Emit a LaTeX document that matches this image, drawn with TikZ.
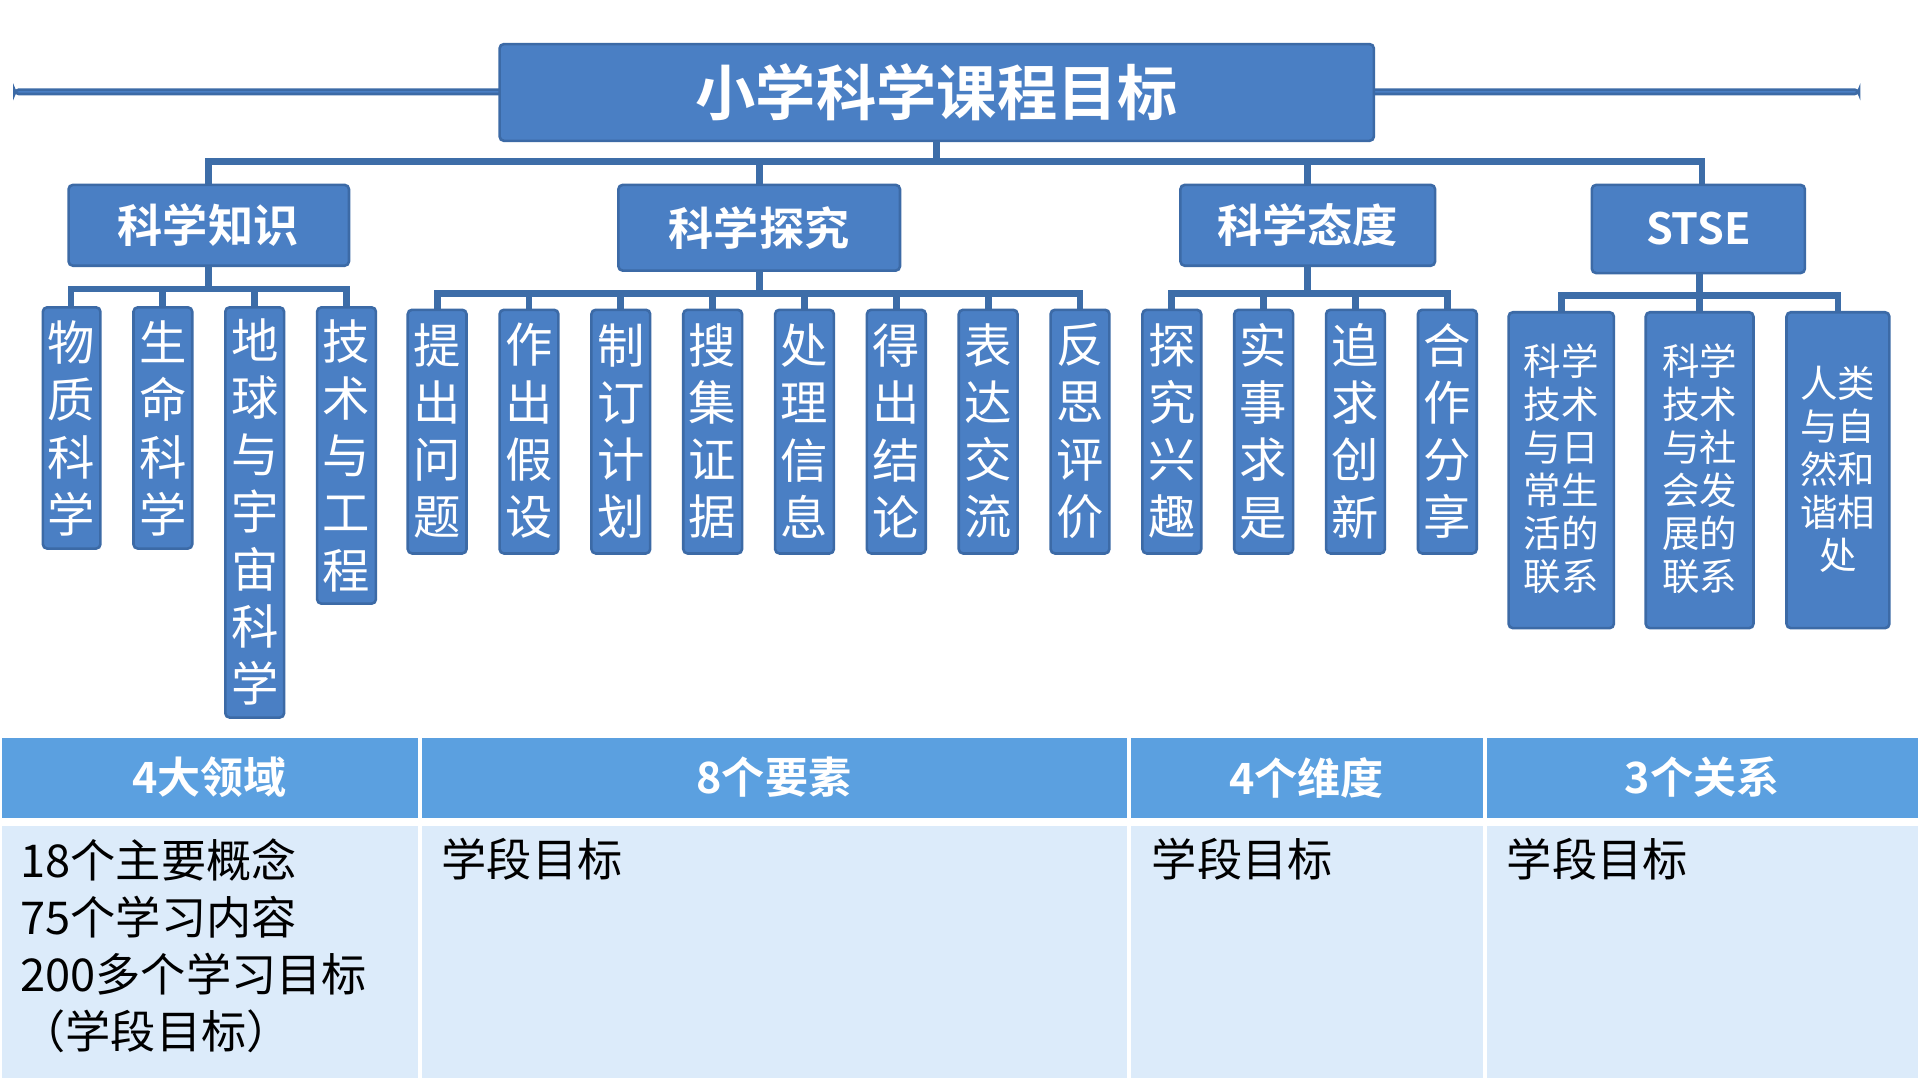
\documentclass[tikz,border=0pt]{standalone}
\usepackage{fontspec}
\setmainfont{Noto Sans CJK SC}
\newfontfamily\cjk{Noto Sans CJK SC}
\newfontfamily\cjkb{Noto Sans CJK SC Bold}
\definecolor{bx}{HTML}{4A7FC4}
\definecolor{bxd}{HTML}{3C6AA6}
\definecolor{ln}{HTML}{3D6DA8}
\definecolor{th}{HTML}{5BA0E0}
\definecolor{tb}{HTML}{DCEBFA}
\begin{document}
\begin{tikzpicture}[x=0.01cm,y=-0.01cm,
  bluebox/.style={fill=bx,draw=bxd,line width=0.6pt,rounded corners=1pt,text=white,inner sep=0pt},
  conn/.style={draw=ln,line width=1.6pt},
  leaf/.style={bluebox,font=\cjk\fontsize{11}{13.3}\selectfont,align=center},
  sleaf/.style={bluebox,font=\cjk\fontsize{8.7}{10}\selectfont,align=center},
  hdr/.style={fill=th,draw=white,line width=1pt,text=white,font=\cjkb\fontsize{10}{12}\selectfont},
  bdy/.style={fill=tb,draw=white,line width=1pt,font=\cjk\fontsize{10.5}{13.3}\selectfont,align=left,anchor=north west,inner sep=0pt}]
\useasboundingbox (0,0) rectangle (1568,882);
\fill[white] (0,0) rectangle (1568,882);
% title
\node[bluebox,minimum width=714\pgflinewidth,font=\cjkb\fontsize{14}{16}\selectfont] (T) at (765,75) {};
\path[bluebox] (408,36) rectangle (1122,115);
\node[text=white,font=\cjkb\fontsize{14}{16}\selectfont] (title) at (765,75) {小学科学课程目标};
% level-1 bar
\coordinate (b0) at (765,132);
\draw[conn] (765,115) -- (b0);
\draw[conn] (170,151) -- (170,132) -- (1390,132) -- (1390,151);
\draw[conn] (620,132) -- (620,151);
\draw[conn] (1068,132) -- (1068,151);
% categories
\path[bluebox] (56,151) rectangle (285,217);
\node[text=white,font=\cjkb\fontsize{10.5}{12}\selectfont] (c1) at (170,184) {科学知识};
\path[bluebox] (505,151) rectangle (735,221);
\node[text=white,font=\cjkb\fontsize{10.5}{12}\selectfont] (c2) at (620,186) {科学探究};
\path[bluebox] (964,151) rectangle (1172,217);
\node[text=white,font=\cjkb\fontsize{10.5}{12}\selectfont] (c3) at (1068,184) {科学态度};
\path[bluebox] (1300,151) rectangle (1474,223);
\node[text=white,font=\cjkb\fontsize{10}{12}\selectfont] (c4) at (1387,187) {STSE};
% sub bars
\draw[conn] (170,217) -- (170,236);
\draw[conn] (58,251) -- (58,236) -- (283,236) -- (283,251);
\draw[conn] (133,236) -- (133,251); \draw[conn] (208,236) -- (208,251);
\draw[conn] (620,221) -- (620,240);
\draw[conn] (357,253) -- (357,240) -- (882,240) -- (882,253);
\foreach \x in {432,507,582,657,732,807} \draw[conn] (\x,240) -- (\x,253);
\draw[conn] (1068,217) -- (1068,240);
\draw[conn] (957,253) -- (957,240) -- (1182,240) -- (1182,253);
\foreach \x in {1032,1107} \draw[conn] (\x,240) -- (\x,253);
\draw[conn] (1388,223) -- (1388,241);
\draw[conn] (1275,255) -- (1275,241) -- (1501,241) -- (1501,255);
\draw[conn] (1388,241) -- (1388,255);
% knowledge leaves
\path[bluebox] (35,251) rectangle (82,448);  \node[leaf,fill=none,draw=none] (k1) at (58,350) {物\\质\\科\\学};
\path[bluebox] (109,251) rectangle (157,448); \node[leaf,fill=none,draw=none] (k2) at (133,350) {生\\命\\科\\学};
\path[bluebox] (184,251) rectangle (232,586); \node[leaf,fill=none,draw=none] (k3) at (208,418) {地\\球\\与\\宇\\宙\\科\\学};
\path[bluebox] (259,251) rectangle (307,493); \node[leaf,fill=none,draw=none] (k4) at (283,372) {技\\术\\与\\工\\程};
% inquiry leaves
\foreach \x/\t [count=\i] in {357/提出问题,432/作出假设,507/制订计划,582/搜集证据,657/处理信息,732/得出结论,807/表达交流,882/反思评价,957/探究兴趣,1032/实事求是,1107/追求创新,1182/合作分享}{
  \path[bluebox] (\x-24,253) rectangle (\x+24,452);
}
\node[leaf,fill=none,draw=none] (e1) at (357,352) {提\\出\\问\\题};
\node[leaf,fill=none,draw=none] (e2) at (432,352) {作\\出\\假\\设};
\node[leaf,fill=none,draw=none] (e3) at (507,352) {制\\订\\计\\划};
\node[leaf,fill=none,draw=none] (e4) at (582,352) {搜\\集\\证\\据};
\node[leaf,fill=none,draw=none] (e5) at (657,352) {处\\理\\信\\息};
\node[leaf,fill=none,draw=none] (e6) at (732,352) {得\\出\\结\\论};
\node[leaf,fill=none,draw=none] (e7) at (807,352) {表\\达\\交\\流};
\node[leaf,fill=none,draw=none] (e8) at (882,352) {反\\思\\评\\价};
\node[leaf,fill=none,draw=none] (a1) at (957,352) {探\\究\\兴\\趣};
\node[leaf,fill=none,draw=none] (a2) at (1032,352) {实\\事\\求\\是};
\node[leaf,fill=none,draw=none] (a3) at (1107,352) {追\\求\\创\\新};
\node[leaf,fill=none,draw=none] (a4) at (1182,352) {合\\作\\分\\享};
% STSE leaves
\path[bluebox] (1232,255) rectangle (1318,513); \node[sleaf,fill=none,draw=none] (s1) at (1275,383) {科学\\技术\\与日\\常生\\活的\\联系};
\path[bluebox] (1344,255) rectangle (1432,513); \node[sleaf,fill=none,draw=none] (s2) at (1388,383) {科学\\技术\\与社\\会发\\展的\\联系};
\path[bluebox] (1459,255) rectangle (1543,513); \node[sleaf,fill=none,draw=none] (s3) at (1501,383) {人类\\与自\\然和\\谐相\\处};
% table
\path[hdr] (0,601) rectangle (343,670); \node[text=white,font=\cjkb\fontsize{10}{12}\selectfont] (h1) at (171,635) {4大领域};
\path[hdr] (343,601) rectangle (922,670); \node[text=white,font=\cjkb\fontsize{10}{12}\selectfont] (h2) at (632,635) {8个要素};
\path[hdr] (922,601) rectangle (1213,670); \node[text=white,font=\cjkb\fontsize{10}{12}\selectfont] (h3) at (1067,635) {4个维度};
\path[hdr] (1213,601) rectangle (1568,670); \node[text=white,font=\cjkb\fontsize{10}{12}\selectfont] (h4) at (1390,635) {3个关系};
\path[fill=tb,draw=white,line width=1pt] (0,673) rectangle (343,882);
\path[fill=tb,draw=white,line width=1pt] (343,673) rectangle (922,882);
\path[fill=tb,draw=white,line width=1pt] (922,673) rectangle (1213,882);
\path[fill=tb,draw=white,line width=1pt] (1213,673) rectangle (1568,882);
\node[font=\cjk\fontsize{10.5}{13.3}\selectfont,align=left,anchor=north west,inner sep=0pt] (t1) at (16,684) {18个主要概念\\75个学习内容\\200多个学习目标\\（学段目标）};
\node[font=\cjk\fontsize{10.5}{13.3}\selectfont,anchor=north west,inner sep=0pt] (t2) at (360,684) {学段目标};
\node[font=\cjk\fontsize{10.5}{13.3}\selectfont,anchor=north west,inner sep=0pt] (t3) at (940,684) {学段目标};
\node[font=\cjk\fontsize{10.5}{13.3}\selectfont,anchor=north west,inner sep=0pt] (t4) at (1230,684) {学段目标};
\end{tikzpicture}
\end{document}
